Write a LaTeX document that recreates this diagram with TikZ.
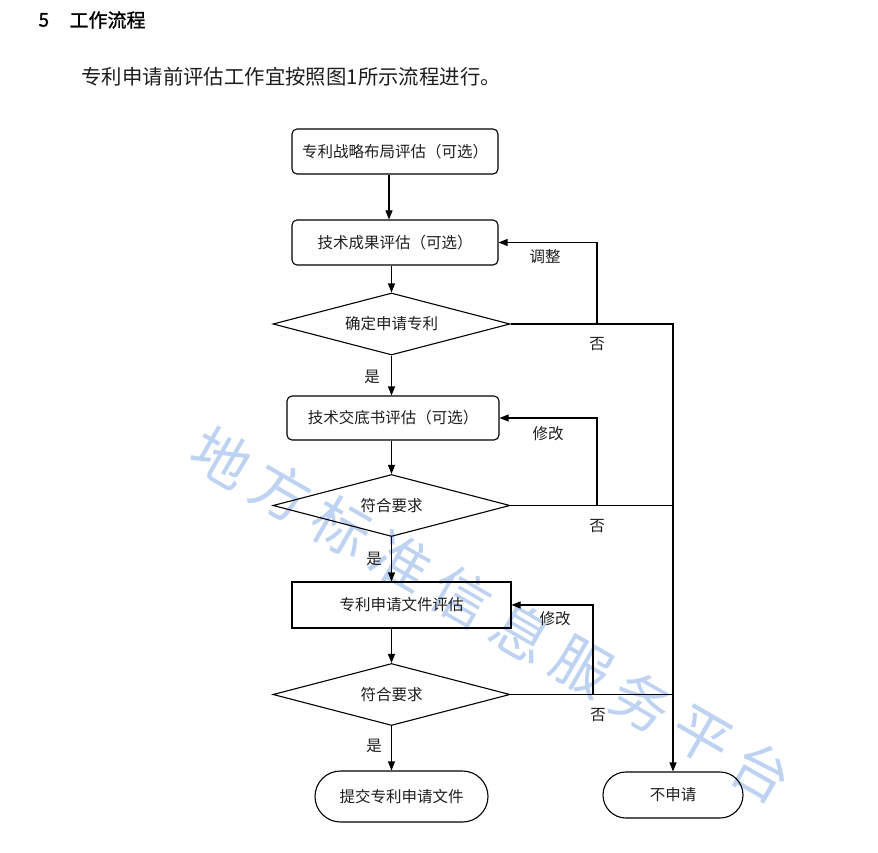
\documentclass[tikz,border=0pt]{standalone}
\usepackage{fontspec}
\setmainfont{Noto Sans CJK SC}
\usetikzlibrary{positioning,arrows.meta,shapes.geometric,shapes.misc}
\definecolor{wmblue}{RGB}{190,210,242}
\definecolor{ink}{RGB}{30,30,30}
\tikzset{
  proc/.style={draw,line width=1.1pt,rounded corners=5pt,minimum width=206pt,minimum height=45pt,inner sep=0pt,text=ink,font=\fontsize{15.5}{15.5}\selectfont},
  rectbox/.style={proc,rounded corners=0pt},
  dec/.style={draw,diamond,aspect=3.8,minimum width=237pt,minimum height=62pt,inner sep=0pt,line width=1.1pt,text=ink,font=\fontsize{15.5}{15.5}\selectfont},
  term/.style={draw,rounded rectangle,line width=1.1pt,inner sep=0pt,text=ink,font=\fontsize{15.5}{15.5}\selectfont},
  arr/.style={line width=1.1pt,-{Triangle[length=9pt,width=7pt]}},
  ln/.style={line width=1.1pt},
  lbl/.style={text=ink,font=\fontsize{15.5}{15.5}\selectfont},
  head/.style={anchor=west,font=\fontsize{19}{19}\selectfont\addfontfeature{FakeBold=1.2}},
  wmk/.style={text=wmblue,font=\fontsize{58}{58}\selectfont,rotate=-30}
}
\begin{document}
\begin{tikzpicture}[x=1pt,y=-1pt]
  \useasboundingbox[fill=white] (0,0) rectangle (878,853);
  \foreach \c [count=\i from 0] in {地,方,标,准,信,息,服,务,平,台}
    \node[wmk] (w\i) at ({222+60*\i},{457+35*\i}) {\c};
  \node[head] (sec) at (35,20) {5};
  \node[head] (ttl) at (66,20) {工作流程};
  \node[anchor=west,text=ink,font=\fontsize{20.4}{20.4}\selectfont] (intro) at (78,77) {专利申请前评估工作宜按照图1所示流程进行。};
  \node[proc] (b1) at (395,151.5) {专利战略布局评估（可选）};
  \node[proc] (b2) at (395,242.5) {技术成果评估（可选）};
  \node[dec] (d1) at (391.5,324) {确定申请专利};
  \node[proc,minimum width=212pt,minimum height=44pt] (b3) at (393,418) {技术交底书评估（可选）};
  \node[dec] (d2) at (391.5,505.5) {符合要求};
  \node[rectbox,minimum width=219pt,minimum height=46pt] (b4) at (401.5,605) {专利申请文件评估};
  \node[dec] (d3) at (391.5,694.5) {符合要求};
  \node[term,minimum width=173pt,minimum height=51pt] (e1) at (401.5,796.5) {提交专利申请文件};
  \node[term,minimum width=140pt,minimum height=46pt] (e2) at (673,795) {不申请};
  \draw[arr] (b1.south -| 389,0) -- (b2.north -| 389,0);
  \draw[arr] (b2.south -| d1.north) -- (d1.north);
  \draw[arr] (d1.south) -- (d1.south |- b3.north);
  \draw[arr] (b3.south -| d2.north) -- (d2.north);
  \draw[arr] (d2.south) -- (d2.south |- b4.north);
  \draw[arr] (b4.south -| d3.north) -- (d3.north);
  \draw[arr] (d3.south) -- (d3.south |- e1.north);
  \draw[arr] (d1.east) -| (e2.north);
  \draw[ln] (d2.east) -- (d2.east -| e2.north);
  \draw[ln] (d3.east) -- (d3.east -| e2.north);
  \coordinate (t1) at (597,324);
  \coordinate (t2) at (597,505.5);
  \coordinate (t3) at (593,694.5);
  \draw[arr] (t1) |- (b2.east);
  \draw[arr] (t2) |- (b3.east);
  \draw[arr] (t3) |- (b4.east);
  \node[lbl] (adj) at (545,257) {调整};
  \node[lbl] (no1) at (597,344) {否};
  \node[lbl] (yes1) at (372,377) {是};
  \node[lbl] (mod1) at (548,434) {修改};
  \node[lbl] (no2) at (597,526) {否};
  \node[lbl] (yes2) at (374,559) {是};
  \node[lbl] (mod2) at (555,619) {修改};
  \node[lbl] (no3) at (598,715) {否};
  \node[lbl] (yes3) at (374,746) {是};
\end{tikzpicture}
\end{document}
